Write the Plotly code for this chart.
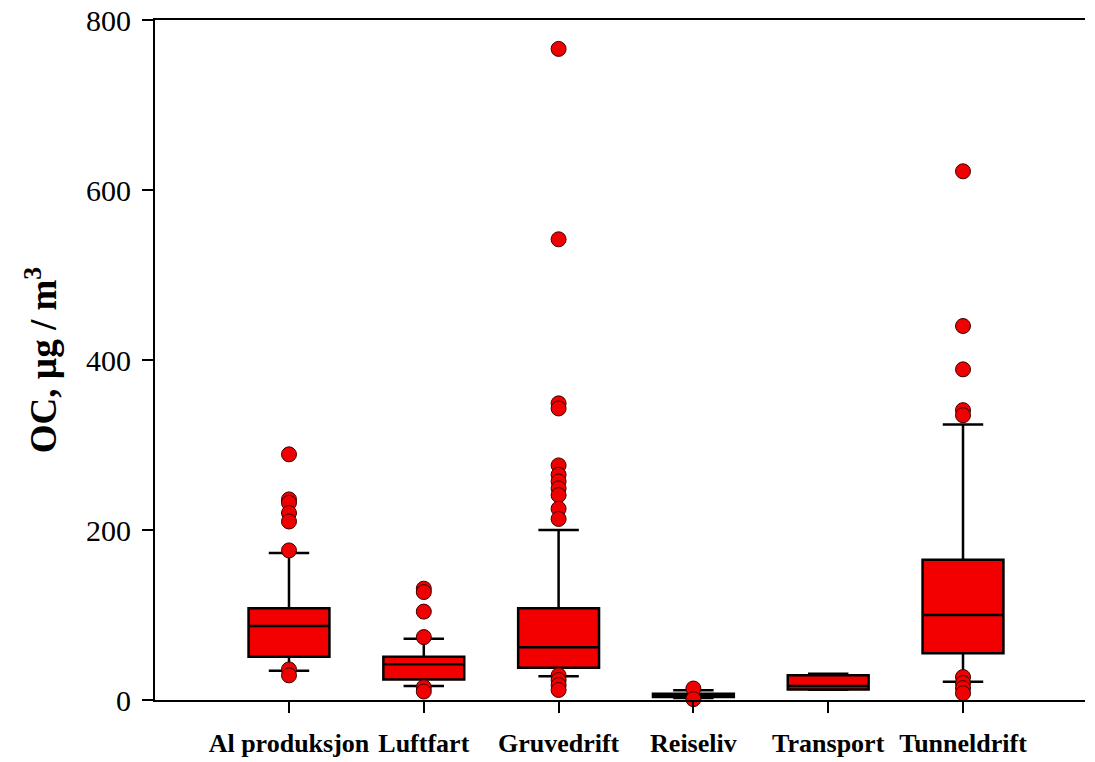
import plotly.graph_objects as go

categories = ["Al produksjon", "Luftfart", "Gruvedrift", "Reiseliv", "Transport", "Tunneldrift"]
q1 = [51, 24, 38, 3.5, 12.5, 55]
median = [87, 42, 62, 5.5, 16.5, 100]
q3 = [108, 51, 108, 7.5, 29, 165]
lower_whisker = [34.5, 16.5, 28, 2.5, 12, 21.5]
upper_whisker = [173, 72, 200, 11.5, 31, 324]

outliers = {
    "Al produksjon": [289, 236, 232, 220, 210, 176, 36, 29],
    "Luftfart": [131, 127, 104, 74, 15, 10],
    "Gruvedrift": [766, 542, 349, 343, 276, 265, 257, 249, 241, 225, 213, 29, 23.5, 17.6, 11.8],
    "Reiseliv": [13.5, 1],
    "Transport": [],
    "Tunneldrift": [622, 440, 389, 341, 335, 27, 20, 14, 8],
}
y_ticks = [0, 200, 400, 600, 800]

positions = list(range(len(categories)))

fig = go.Figure()
fig.add_trace(go.Box(
    x=positions, q1=q1, median=median, q3=q3,
    lowerfence=lower_whisker, upperfence=upper_whisker,
    width=0.6, whiskerwidth=0.5, boxpoints=False,
    fillcolor="#f20000", line=dict(color="black", width=2.5),
    showlegend=False, hoverinfo="skip",
))

ox, oy = [], []
for i, c in enumerate(categories):
    for v in outliers[c]:
        ox.append(i)
        oy.append(v)
fig.add_trace(go.Scatter(
    x=ox, y=oy, mode="markers",
    marker=dict(size=15, color="#f00000", line=dict(color="#3a0000", width=1)),
    cliponaxis=False, showlegend=False,
))

fig.update_layout(
    width=1095, height=762,
    margin=dict(l=147, r=18, t=12, b=70, autoexpand=False),
    paper_bgcolor="white", plot_bgcolor="white",
    font=dict(family="Liberation Serif", color="black"),
)
fig.update_xaxes(
    range=[-0.994, 5.905], tickvals=positions, ticktext=categories,
    showline=True, linecolor="black", linewidth=2, mirror=True,
    ticks="outside", ticklen=11, tickwidth=2, tickcolor="black",
    showgrid=False, zeroline=False, ticklabelstandoff=8, automargin=False,
    tickfont=dict(family="Liberation Serif", size=26, color="black", weight="bold"),
)
fig.update_yaxes(
    range=[0, 800], tickvals=y_ticks,
    showline=True, linecolor="black", linewidth=2,
    ticks="outside", ticklen=11, tickwidth=2, tickcolor="black",
    showgrid=False, zeroline=False, ticklabelstandoff=5, automargin=False,
    ticklabeloverflow="allow",
    tickfont=dict(family="Liberation Serif", size=30, color="black"),
    title=dict(text="<b>OC, µg / m<sup>3</sup></b>", standoff=18,
               font=dict(family="Liberation Serif", size=37, color="black")),
)

fig.write_html("out.html")
